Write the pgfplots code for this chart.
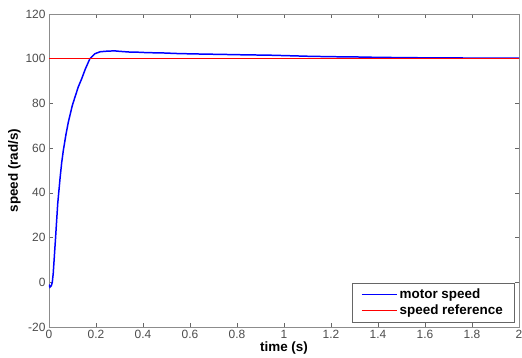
\documentclass[border=0pt]{standalone}
\usepackage{pgfplots}
\pgfplotsset{compat=1.18}
\usepackage{fontspec}
\setmainfont{Liberation Sans}
\begin{document}
\begin{tikzpicture}
\begin{axis}[
  scale only axis,
  width=470bp, height=313bp,
  xmin=0, xmax=2, ymin=-20, ymax=120,
  xtick={0,0.2,...,2.01}, ytick={-20,0,...,120},
  xticklabels={0,0.2,0.4,0.6,0.8,1,1.2,1.4,1.6,1.8,2},
  /pgf/number format/assume math mode=true,
  tick label style={font=\fontsize{12}{14}\selectfont, text=black!70},
  tick align=inside, major tick length=4bp,
  axis line style={draw=black!45, line width=0.8pt},
  every tick/.style={draw=black!60, line width=0.6pt},
  xlabel={\bfseries time (s)}, ylabel={\bfseries speed (rad/s)},
  label style={font=\fontsize{13.5}{15}\selectfont},
  xlabel style={yshift=4bp},
  ylabel style={yshift=-2bp},
  legend style={at={(rel axis cs:1,0)}, anchor=south east, xshift=-5bp, yshift=5bp,
    draw=black!60, fill=white, font=\fontsize{13.5}{15}\selectfont\bfseries,
    row sep=1bp, inner xsep=9bp, inner ysep=3.5bp},
  legend cell align=left,
  legend image code/.code={\draw[#1] (0cm,0cm) -- (28bp,0cm); \path (0,0) -- (35bp,0);},
]
\addplot[blue, line width=1.5pt] coordinates {
(0,-1) (0.004,-2.2) (0.010,-1.5) (0.014,0) (0.018,4) (0.023,12) (0.028,20)
(0.037,35) (0.047,46.5) (0.054,53.5) (0.061,59) (0.072,66) (0.082,71.5)
(0.099,79) (0.111,83) (0.125,87.5) (0.139,91) (0.155,95.5) (0.174,100)
(0.195,102.2) (0.217,103.1) (0.25,103.4) (0.28,103.5) (0.30,103.3) (0.34,103.0)
(0.38,102.9) (0.42,102.7) (0.48,102.6) (0.55,102.3) (0.64,102.1) (0.75,101.9)
(0.85,101.7) (0.93,101.6) (1.0,101.4) (1.1,101.1) (1.2,100.9) (1.3,100.8)
(1.4,100.6) (1.5,100.5) (1.6,100.4) (1.8,100.3) (2.0,100.3)
};
\addlegendentry{motor speed}
\addplot[red, line width=1pt] coordinates {(0,100) (2,100)};
\addlegendentry{speed reference}
\end{axis}
\pgfresetboundingbox
\path ([shift={(-49bp,-31bp)}]current axis.south west) rectangle ([shift={(3bp,14bp)}]current axis.north east);
\end{tikzpicture}
\end{document}
